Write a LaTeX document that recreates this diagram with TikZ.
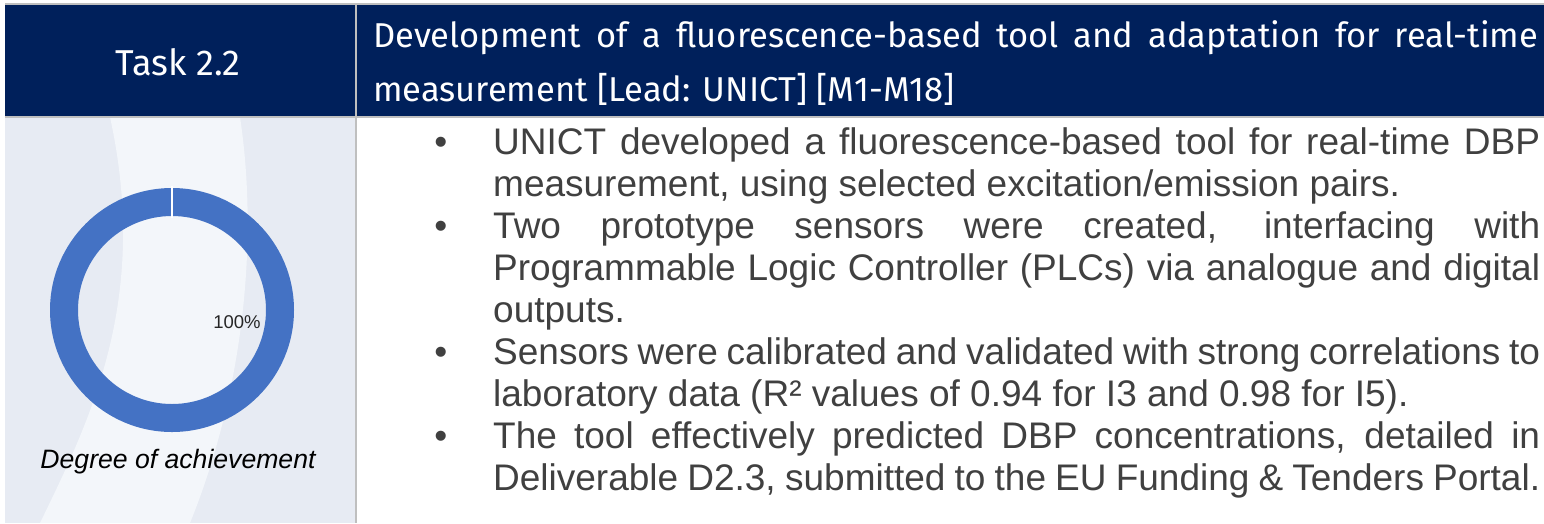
\documentclass[tikz,border=0pt]{standalone}
\usepackage{fontspec}
\setmainfont{Liberation Sans}
\newfontfamily\headfont{Fira Sans}
\usepackage{enumitem}
\usepackage{xcolor}

\definecolor{headnavy}{HTML}{00205B}
\definecolor{ringblue}{HTML}{4472C4}
\definecolor{cellgray}{HTML}{E7EBF3}
\definecolor{swirl}{HTML}{F3F6FA}
\definecolor{rulegray}{HTML}{BFBFBF}
\definecolor{bodytext}{HTML}{404040}

\tikzset{
  headtext/.style={text=white, inner sep=0pt, font=\headfont\fontsize{36}{54}\selectfont},
  celltext/.style={text=bodytext, inner sep=0pt, font=\fontsize{37}{41.9}\selectfont},
  tablerule/.style={rulegray, line width=1.5pt}
}

\begin{document}
\begin{tikzpicture}[x=1pt,y=-1pt]
\useasboundingbox (0,0) rectangle (1544,523);

% Fondo de las celdas
\fill[headnavy] (5,4) rectangle (1544,117);
\fill[cellgray] (5,117) rectangle (356,523);
\fill[swirl] (110,117) .. controls (150,300) and (90,420) .. (40,523)
  -- (190,523) .. controls (240,400) and (260,250) .. (240,117) -- cycle;
\fill[white] (356,117) rectangle (1544,523);

% Lineas de la tabla
\draw[tablerule] (5,4) -- (1544,4);
\draw[tablerule] (5,117) -- (1544,117);
\draw[tablerule] (356,4) -- (356,523);

% Cabecera
\node[headtext, anchor=base] (task) at (178,75) {Task 2.2};
\node[headtext, font=\headfont\fontsize{34.5}{54}\selectfont, anchor=base west,
  text width=1165pt, align=justify] (title) at (373,47)
  {Development of a fluorescence-based tool and adaptation for real-time\linebreak
   measurement [Lead: UNICT] [M1-M18]};

% Anillo de avance
\coordinate (ring) at (172,310);
\fill[ringblue, even odd rule] (ring) circle (122pt) (ring) circle (94pt);
\draw[white, line width=2pt] (172,186) -- (172,218);
\node[text=black!85, inner sep=0pt, font=\fontsize{18.5}{20}\selectfont] (pct) at (237,322) {100\%};
\node[inner sep=0pt, anchor=base, font=\itshape\fontsize{26.6}{30}\selectfont] (degree) at (178,468)
  {Degree of achievement};

% Texto de la celda
\node[celltext, anchor=base west, text width=1120pt, align=justify] (bullets) at (420,113) {%
  \hyphenpenalty=10000 \exhyphenpenalty=10000
  \begin{itemize}[leftmargin=73pt, labelsep=46pt, itemsep=0pt, topsep=0pt, parsep=0pt]
  \item UNICT developed a fluorescence-based tool for real-time DBP\linebreak
        measurement, using selected excitation/emission pairs.
  \item Two prototype sensors were created, interfacing with\linebreak
        Programmable Logic Controller (PLCs) via analogue and digital\linebreak
        outputs.
  \item Sensors were calibrated and validated with strong correlations to\linebreak
        laboratory data (R² values of 0.94 for I3 and 0.98 for I5).
  \item The tool effectively predicted DBP concentrations, detailed in\linebreak
        Deliverable D2.3, submitted to the EU Funding \& Tenders Portal.
  \end{itemize}};
\end{tikzpicture}
\end{document}
